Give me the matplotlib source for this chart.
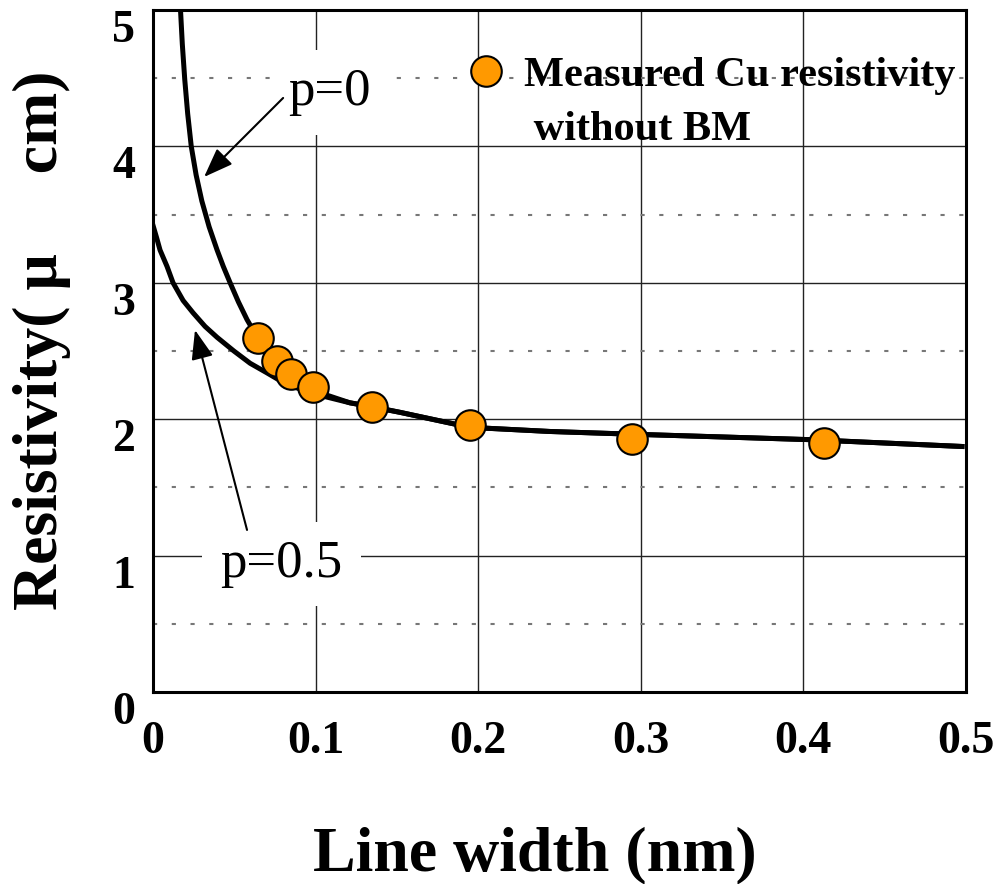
import matplotlib
matplotlib.use('Agg')
import matplotlib.pyplot as plt
from matplotlib.ticker import MultipleLocator

plt.rcParams['font.family'] = ['Liberation Serif', 'DejaVu Serif']

# Measured Cu resistivity (orange circles)
meas_x = [0.0646, 0.0763, 0.0849, 0.0984, 0.1347, 0.1950, 0.2946, 0.4127]
meas_y = [2.595, 2.43, 2.33, 2.236, 2.09, 1.957, 1.855, 1.826]

# Model curve, p=0
p0_x = [0.0168, 0.0180, 0.0195, 0.0213, 0.0235, 0.0265, 0.0300, 0.0345, 0.0394,
        0.0432, 0.0474, 0.0525, 0.0578, 0.0646, 0.0763, 0.0849, 0.0984, 0.1211,
        0.1520, 0.1950, 0.2440, 0.2946, 0.4040, 0.4975]
p0_y = [5.02, 4.75, 4.49, 4.24, 4.00, 3.79, 3.60, 3.41, 3.24,
        3.12, 3.00, 2.86, 2.73, 2.59, 2.43, 2.33, 2.21, 2.12,
        2.05, 1.94, 1.91, 1.89, 1.85, 1.80]

# Model curve, p=0.5
p5_x = [0.0, 0.0022, 0.0043, 0.0086, 0.0123, 0.0185, 0.0246, 0.0320, 0.0394,
        0.0497, 0.0597, 0.0700, 0.0800, 0.0905, 0.1009, 0.1211, 0.1316, 0.1520,
        0.1950, 0.2440, 0.2946, 0.4040, 0.4975]
p5_y = [3.42, 3.33, 3.24, 3.12, 3.00, 2.87, 2.78, 2.68, 2.60,
        2.50, 2.41, 2.34, 2.27, 2.22, 2.18, 2.12, 2.10, 2.05,
        1.94, 1.91, 1.89, 1.85, 1.80]

x_ticks = [0, 0.1, 0.2, 0.3, 0.4, 0.5]
x_tick_labels = ['0', '0.1', '0.2', '0.3', '0.4', '0.5']
y_ticks = [0, 1, 2, 3, 4, 5]
y_tick_labels = ['0', '1', '2', '3', '4', '5']

fig = plt.figure(figsize=(9.99, 8.84), dpi=100)
ax = fig.add_axes([0.1532, 0.2172, 0.8138, 0.7715])

ax.set_xlim(0, 0.5)
ax.set_ylim(0, 5)

# grid: solid at integer values, dotted at halves
ax.set_xticks(x_ticks)
ax.set_xticklabels(x_tick_labels)
ax.set_yticks(y_ticks)
ax.set_yticklabels(y_tick_labels)
ax.yaxis.set_minor_locator(MultipleLocator(0.5))
ax.grid(True, which='major', color='#222222', linewidth=1.0)
ax.grid(True, which='minor', axis='y', color='#777777', linewidth=1.5,
        linestyle=(0, (2, 7)))
ax.set_axisbelow(True)

ax.tick_params(which='both', length=0)
ax.tick_params(axis='y', pad=13, labelsize=33)
ax.tick_params(axis='x', pad=21, labelsize=33)
for lab in ax.get_xticklabels() + ax.get_yticklabels():
    lab.set_fontweight('bold')
for lab in ax.get_yticklabels():
    lab.set_verticalalignment('top')

for sp in ax.spines.values():
    sp.set_linewidth(2.2)

# curves
ax.plot(p0_x, p0_y, color='black', linewidth=3.6, solid_joinstyle='round', zorder=3)
ax.plot(p5_x, p5_y, color='black', linewidth=3.6, solid_joinstyle='round', zorder=3)

# measured points
pts, = ax.plot(meas_x, meas_y, linestyle='none', marker='o', markersize=22,
               markerfacecolor='#FF9900', markeredgecolor='black',
               markeredgewidth=1.5, zorder=4, clip_on=False,
               label='Measured Cu resistivity')

leg = ax.legend(handles=[pts], loc='center left', bbox_to_anchor=(0.3838, 0.9035),
                frameon=False, borderaxespad=0, borderpad=0, handlelength=1.0,
                handletextpad=0.4, prop={'family': 'Liberation Serif',
                                         'weight': 'bold', 'size': 30.5})
ax.text(0.455, 0.8094, ' without BM', transform=ax.transAxes, fontsize=30.5,
        fontweight='bold', ha='left', va='baseline', zorder=5)

# annotations
ax.text(0.083, 4.30, 'p=0', fontsize=38, ha='left', va='baseline', zorder=5,
        bbox=dict(boxstyle='square,pad=0.35', facecolor='white', edgecolor='none'))
ax.annotate('', xy=(0.0314, 3.776), xytext=(0.080, 4.355),
            arrowprops=dict(arrowstyle='-|>,head_length=1.2,head_width=0.45',
                            mutation_scale=15, lw=1.5, color='black',
                            shrinkA=0, shrinkB=0), zorder=6)

ax.text(0.0412, 0.843, 'p=0.5', fontsize=38, ha='left', va='baseline', zorder=5,
        bbox=dict(boxstyle='square,pad=0.35', facecolor='white', edgecolor='none'))
ax.annotate('', xy=(0.0258, 2.654), xytext=(0.0578, 1.188),
            arrowprops=dict(arrowstyle='-|>,head_length=1.2,head_width=0.45',
                            mutation_scale=15, lw=1.5, color='black',
                            shrinkA=0, shrinkB=0), zorder=6)

# axis titles
fig.text(313 / 999, (884 - 870) / 884, 'Line width (nm)', fontsize=46,
         fontweight='bold', ha='left', va='baseline')
fig.text(57 / 999, (884 - 610) / 884, 'Resistivity( μ     cm)', fontsize=46,
         fontweight='bold', rotation=90, rotation_mode='anchor',
         ha='left', va='baseline')

fig.savefig('out.png', dpi=100)
